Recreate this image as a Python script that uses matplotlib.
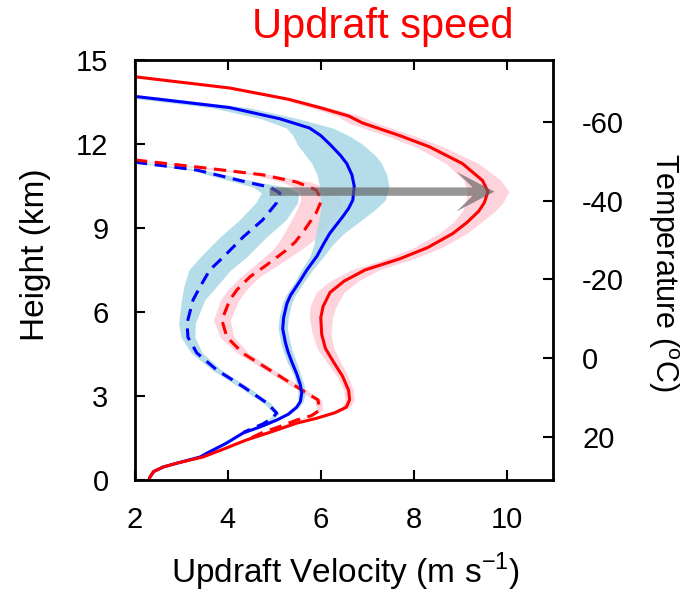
import numpy as np
import matplotlib.pyplot as plt
from matplotlib.patches import Polygon

plt.rcParams['font.family'] = ['Liberation Sans', 'DejaVu Sans']
plt.rcParams['mathtext.fontset'] = 'custom'
plt.rcParams['mathtext.rm'] = 'Liberation Sans'
plt.rcParams['axes.unicode_minus'] = False

# profiles: height (km), mean updraft (m/s), half spread of the shaded band
h_red = [14.4, 14.0, 13.6, 13.3, 13.0, 12.75, 12.3, 11.9, 11.3, 10.7, 10.3, 9.9, 9.6,
         9.2, 8.8, 8.3, 7.9, 7.5, 7.1, 6.7, 6.2, 5.8, 5.2, 4.7, 4.2, 3.7, 3.2, 2.86,
         2.6, 2.4, 2.2, 2.03, 1.7, 1.43, 1.1, 0.82, 0.6, 0.46, 0.3, 0.1, 0.0]
w_red = [2.0, 4.04, 5.3, 5.98, 6.6, 6.9, 7.7, 8.34, 9.05, 9.48, 9.6, 9.52, 9.4,
         9.15, 8.84, 8.3, 7.7, 6.95, 6.5, 6.2, 6.05, 6.0, 6.02, 6.1, 6.28, 6.47, 6.6, 6.62,
         6.55, 6.3, 5.9, 5.48, 4.9, 4.4, 3.9, 3.46, 2.9, 2.6, 2.4, 2.32, 2.3]
s_red = [0.05, 0.1, 0.15, 0.2, 0.25, 0.3, 0.3, 0.3, 0.35, 0.4, 0.45, 0.4, 0.35,
         0.3, 0.3, 0.3, 0.3, 0.3, 0.3, 0.3, 0.28, 0.25, 0.2, 0.18, 0.15, 0.12, 0.1, 0.1,
         0.08, 0.06, 0.05, 0.05, 0.05, 0.04, 0.04, 0.03, 0.03, 0.03, 0.02, 0.02, 0.02]

h_blue = [13.7, 13.3, 12.9, 12.57, 12.3, 12.0, 11.6, 11.3, 10.9, 10.5, 10.0, 9.7, 9.4,
          8.8, 8.4, 8.0, 7.5, 7.1, 6.6, 6.3, 5.8, 5.4, 4.9, 4.6, 4.2, 3.8, 3.4, 3.1,
          2.8, 2.6, 2.35, 2.14, 1.9, 1.68, 1.3, 0.96, 0.82, 0.6, 0.46, 0.3, 0.1, 0.0]
w_blue = [2.0, 4.04, 5.12, 5.76, 6.0, 6.19, 6.42, 6.56, 6.67, 6.72, 6.69, 6.6, 6.47,
          6.19, 6.05, 5.92, 5.7, 5.55, 5.35, 5.27, 5.2, 5.18, 5.24, 5.29, 5.38, 5.48, 5.56, 5.59,
          5.56, 5.48, 5.3, 5.05, 4.7, 4.33, 3.95, 3.55, 3.4, 2.9, 2.6, 2.4, 2.32, 2.3]
s_blue = [0.4, 0.4, 0.4, 0.5, 0.6, 0.7, 0.75, 0.75, 0.75, 0.75, 0.7, 0.6, 0.5,
          0.3, 0.2, 0.15, 0.12, 0.1, 0.1, 0.1, 0.1, 0.1, 0.1, 0.1, 0.1, 0.08, 0.08, 0.08,
          0.06, 0.05, 0.05, 0.04, 0.04, 0.03, 0.03, 0.03, 0.03, 0.02, 0.02, 0.02, 0.02, 0.02]

h_red_d = [11.43, 11.18, 10.9, 10.64, 10.36, 10.0, 9.54, 8.93, 8.5, 8.2, 7.7, 7.25, 6.8,
           6.43, 5.71, 5.1, 4.52, 3.93, 3.33, 2.86, 2.5, 2.3, 2.14, 1.9, 1.7, 1.43]
w_red_d = [2.0, 3.33, 4.75, 5.48, 5.9, 6.02, 5.9, 5.65, 5.45, 5.25, 4.85, 4.47, 4.2,
           4.04, 3.87, 3.98, 4.33, 4.9, 5.48, 5.94, 5.98, 5.8, 5.48, 5.1, 4.75, 4.4]
s_red_d = [0.1, 0.15, 0.2, 0.3, 0.35, 0.45, 0.45, 0.4, 0.35, 0.3, 0.25, 0.2, 0.2,
           0.2, 0.18, 0.15, 0.12, 0.1, 0.1, 0.08, 0.06, 0.05, 0.04, 0.04, 0.03, 0.03]

h_blue_d = [11.35, 11.07, 10.64, 10.46, 10.25, 9.9, 9.29, 8.68, 7.96, 7.5, 6.9, 6.43,
            5.6, 5.1, 4.54, 3.93, 3.33, 2.75, 2.39, 2.2, 2.0, 1.7]
w_blue_d = [2.0, 3.33, 4.4, 4.9, 5.12, 5.05, 4.75, 4.33, 3.9, 3.61, 3.4, 3.25,
            3.12, 3.14, 3.33, 3.76, 4.33, 4.84, 5.05, 4.95, 4.75, 4.33]
s_blue_d = [0.1, 0.15, 0.25, 0.35, 0.4, 0.45, 0.5, 0.5, 0.5, 0.45, 0.35, 0.25,
            0.18, 0.15, 0.12, 0.1, 0.1, 0.08, 0.06, 0.05, 0.04, 0.03]

x_ticks = [2, 4, 6, 8, 10]
y_ticks = [0, 3, 6, 9, 12, 15]
t_ticks = [-60, -40, -20, 0, 20]
t_bottom, t_top = 31.0, -75.8   # temperature at 0 km and 15 km

arrow_h = 10.3
arrow_from, arrow_to = 4.9, 9.74

fig = plt.figure(figsize=(6.82, 5.92), dpi=100)
ax = fig.add_axes([135 / 682, 112 / 592, 418 / 682, 420 / 592])

pink = '#ffc8d4'
lblue = '#a8d8e6'

def band(h, w, s, color, alpha):
    h = np.array(h); w = np.array(w); s = np.array(s)
    ax.fill_betweenx(h, w - s, w + s, color=color, alpha=alpha, lw=0)

band(h_red, w_red, s_red, pink, 0.8)
band(h_red_d, w_red_d, s_red_d, pink, 0.8)
band(h_blue, w_blue, s_blue, lblue, 0.85)
band(h_blue_d, w_blue_d, s_blue_d, lblue, 0.85)

lw = 2.2
ax.plot(w_blue_d, h_blue_d, color='blue', lw=lw, dashes=(4, 2.5))
ax.plot(w_red_d, h_red_d, color='red', lw=lw, dashes=(4, 2.5))
ax.plot(w_blue, h_blue, color='blue', lw=lw)
ax.plot(w_red, h_red, color='red', lw=lw)

# notched arrow head, sizes in data units
shaft = 0.15
head_len, head_half, notch = 0.82, 0.71, 0.47
arrow_pts = [(arrow_from, arrow_h - shaft), (arrow_to - notch, arrow_h - shaft),
             (arrow_to - head_len, arrow_h - head_half), (arrow_to, arrow_h),
             (arrow_to - head_len, arrow_h + head_half), (arrow_to - notch, arrow_h + shaft),
             (arrow_from, arrow_h + shaft)]
ax.add_patch(Polygon(arrow_pts, closed=True, facecolor='#606060', alpha=0.65, lw=0, zorder=5))

ax.set_xlim(2, 11)
ax.set_ylim(0, 15)
ax.set_xticks(x_ticks)
ax.set_yticks(y_ticks)
ax.tick_params(axis='x', direction='in', length=7, width=1.5, top=True, labelsize=21, pad=19)
ax.tick_params(axis='y', direction='in', length=7, width=1.5, labelsize=21, pad=19)
for sp in ax.spines.values():
    sp.set_linewidth(2)

ax2 = ax.twinx()
ax2.set_ylim(t_bottom, t_top)
ax2.set_yticks(t_ticks)
ax2.tick_params(axis='y', direction='in', length=7, width=1.5, labelsize=21, pad=21)

fig.text(383 / 682, 1 - 27 / 592, 'Updraft speed', color='red', fontsize=30,
         ha='center', va='center')
fig.text(345 / 682, 1 - 572 / 592, 'Updraft Velocity (m s$^{-1}$)', fontsize=24,
         ha='center', va='center')
fig.text(36 / 682, 1 - 255 / 592, 'Height (km)', fontsize=24, rotation=90,
         ha='center', va='center')
fig.text(663 / 682, 1 - 272 / 592, r'Temperature ($^{\mathrm{o}}$C)', fontsize=22,
         rotation=270, ha='center', va='center')

fig.savefig('out.png', dpi=100)
